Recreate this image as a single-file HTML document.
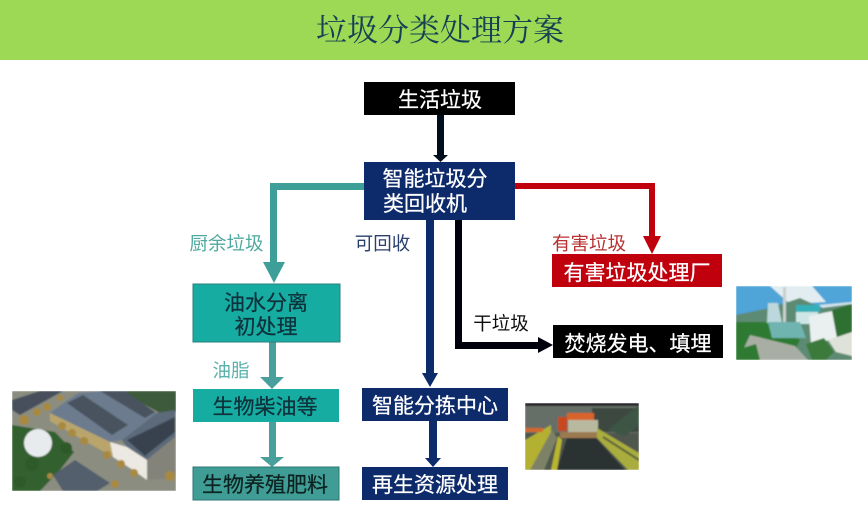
<!DOCTYPE html>
<html lang="zh">
<head>
<meta charset="utf-8">
<style>
html,body{margin:0;padding:0;background:#fff;width:868px;height:509px;overflow:hidden}
svg{display:block}
text{font-family:"Liberation Sans","Noto Sans CJK SC",sans-serif}
</style>
</head>
<body>
<svg width="868" height="509" viewBox="0 0 868 509" xmlns="http://www.w3.org/2000/svg">
<defs>
<filter id="b" x="-5%" y="-5%" width="110%" height="110%"><feGaussianBlur stdDeviation="0.35"/></filter>
<filter id="p" x="0" y="0" width="100%" height="100%"><feGaussianBlur stdDeviation="0.7"/></filter>
<clipPath id="c1"><rect x="12" y="391" width="164" height="100"/></clipPath>
<clipPath id="c2"><rect x="525" y="403" width="114" height="67"/></clipPath>
<clipPath id="c3"><rect x="736" y="286" width="116" height="74"/></clipPath>
</defs>
<rect width="868" height="509" fill="#fff"/>
<rect width="868" height="60" fill="#9dd955"/>
<text x="440" y="41" font-size="31" text-anchor="middle" textLength="248" lengthAdjust="spacing" fill="#143f55" style="font-family:'Liberation Serif','Noto Serif CJK SC',serif">垃圾分类处理方案</text>

<g filter="url(#b)">
<!-- connectors -->
<rect x="437" y="115" width="7" height="40" fill="#050a1c"/>
<path d="M433 155 L448 155 L440.500 162 Z" fill="#050a1c"/>

<path d="M364 186.500 H273.500 V264" fill="none" stroke="#3d9f98" stroke-width="7"/>
<path d="M263 262 H285 L274 283 Z" fill="#3d9f98"/>

<path d="M515 186 H652 V238" fill="none" stroke="#c00010" stroke-width="6"/>
<path d="M643 236 H661 L652 254 Z" fill="#c00010"/>

<rect x="426" y="220" width="8" height="155" fill="#0f2a6b"/>
<path d="M422 373 H438 L430 387 Z" fill="#0f2a6b"/>

<path d="M458.500 220 V345.500 H542" fill="none" stroke="#02040c" stroke-width="7"/>
<path d="M538 337 L553 345 L538 353 Z" fill="#02040c"/>

<rect x="269" y="341" width="7" height="38" fill="#4a9f9b"/>
<path d="M260 377 H284 L272 389 Z" fill="#4a9f9b"/>
<rect x="269" y="422" width="7" height="38" fill="#4a9f9b"/>
<path d="M260 457 H284 L272 467 Z" fill="#4a9f9b"/>

<rect x="429" y="421" width="8" height="39" fill="#0f2a6b"/>
<path d="M425 458 H441 L433 467 Z" fill="#0f2a6b"/>

<!-- boxes -->
<rect x="364" y="82" width="151" height="33" fill="#000"/>
<rect x="364" y="162" width="151" height="58" fill="#0f2a6b"/>
<rect x="193" y="284" width="147" height="58" fill="#14aca1" stroke="#2a7f7c" stroke-width="1"/>
<rect x="193" y="389" width="146" height="33" fill="#14aca1"/>
<rect x="193" y="467" width="146" height="33" fill="#3f9d95" stroke="#2a7773" stroke-width="1"/>
<rect x="362" y="388" width="146" height="33" fill="#0f2a6b"/>
<rect x="362" y="467" width="146" height="33" fill="#0f2a6b"/>
<rect x="552" y="254" width="170" height="33" fill="#c00010"/>
<rect x="553" y="325" width="170" height="33" fill="#000"/>

<!-- box text -->
<g font-size="21" text-anchor="middle" stroke-width="0.25">
<text x="440" y="107" fill="#fff" stroke="#fff">生活垃圾</text>
<text x="435" y="186" fill="#fff" stroke="#fff">智能垃圾分</text>
<text x="425" y="211" fill="#fff" stroke="#fff">类回收机</text>
<text x="266" y="310" fill="#10303a" stroke="#10303a">油水分离</text>
<text x="266" y="334" fill="#10303a" stroke="#10303a">初处理</text>
<text x="265" y="414" fill="#10303a" stroke="#10303a">生物柴油等</text>
<text x="265" y="492" fill="#0b2420" stroke="#0b2420">生物养殖肥料</text>
<text x="435" y="413" fill="#fff" stroke="#fff">智能分拣中心</text>
<text x="435" y="492" fill="#fff" stroke="#fff">再生资源处理</text>
<text x="637" y="280" fill="#fff" stroke="#fff">有害垃圾处理厂</text>
<text x="638" y="351" fill="#fff" stroke="#fff">焚烧发电、填埋</text>
</g>

<!-- labels -->
<g font-size="18.500" text-anchor="middle">
<text x="226.500" y="250" fill="#4fa99f">厨余垃圾</text>
<text x="382.500" y="250" fill="#2a3f6e">可回收</text>
<text x="231" y="377" fill="#5ab0ab">油脂</text>
<text x="501" y="330" fill="#111">干垃圾</text>
<text x="589" y="250" fill="#b83030">有害垃圾</text>
</g>
</g>

<!-- photo: facility -->
<g clip-path="url(#c1)"><g filter="url(#p)">
<rect x="12" y="391" width="164" height="100" fill="#8a8d80"/>
<path d="M120 391 H176 V412 L160 413 Z" fill="#3e5a3a"/>
<path d="M12 400 L40 391 H63 L20 415 L12 410 Z" fill="#47505c"/>
<path d="M12 425 L55 432 L74 452 L60 470 L40 491 H12 Z" fill="#33602f"/>
<path d="M50 413 L78 393 L102 391 L157 413 L122 440 L110 442 Z" fill="#6c7c8e"/>
<path d="M67 403 L83 395 L128 425 L112 435 Z" fill="#48525f"/>
<path d="M100 391 H125 L155 412 L145 418 Z" fill="#48525f"/>
<path d="M122 440 L157 413 L175 410 V437 L147 460 L127 447 Z" fill="#5c6a7a"/>
<path d="M127 440 L175 417 V432 L145 456 Z" fill="#38434f"/>
<path d="M50 413 L110 442 L113 457 L50 421 Z" fill="#b9a56c"/>
<path d="M110 442 L127 447 L147 460 V480 L133 470 L113 457 Z" fill="#ece9e2"/>
<path d="M147 460 L175 437 V478 L147 480 Z" fill="#84837a"/>
<path d="M53 475 L75 460 L110 483 L97 491 H63 Z" fill="#525e6c"/>
<circle cx="38" cy="443" r="14" fill="#e8ebee"/>
<g fill="#a8893f">
<circle cx="24" cy="420" r="5"/><circle cx="37" cy="412" r="4"/><circle cx="47" cy="407" r="4"/><circle cx="60" cy="398" r="3"/>
<circle cx="62" cy="426" r="4"/><circle cx="72" cy="433" r="4"/><circle cx="84" cy="441" r="4"/><circle cx="107" cy="455" r="4"/><circle cx="121" cy="464" r="4"/><circle cx="134" cy="473" r="4"/><circle cx="170" cy="476" r="5"/><circle cx="115" cy="484" r="4"/><circle cx="50" cy="476" r="3"/>
</g>
<g fill="#2e5a2c"><circle cx="66" cy="448" r="6"/><circle cx="32" cy="464" r="7"/><circle cx="20" cy="482" r="6"/></g>
</g></g>

<!-- photo: sorting center -->
<g clip-path="url(#c2)"><g filter="url(#p)">
<rect x="525" y="403" width="114" height="67" fill="#50564e"/>
<rect x="525" y="403" width="114" height="30" fill="#666e68"/>
<rect x="525" y="403" width="114" height="3" fill="#25282a"/>
<rect x="592" y="408" width="47" height="24" fill="#3c4a40"/>
<rect x="567" y="413" width="27" height="7" fill="#d9642c"/>
<rect x="568" y="420" width="30" height="12" fill="#b9b9a0"/>
<rect x="558" y="417" width="9" height="14" fill="#c8471e"/>
<rect x="560" y="432" width="42" height="6" fill="#9c7a50"/>
<path d="M557 470 L567 438 H596 L625 470 Z" fill="#2a3032"/>
<path d="M525 440 L551 425 V435 L532 470 H525 Z" fill="#b3b030"/>
<path d="M530 470 L552 430 L557 438 L544 470 Z" fill="#7d8266"/>
<path d="M551 470 L558 436 L562 440 L557 470 Z" fill="#b9b52e"/>
<path d="M597 428 L639 453 V470 H628 L597 438 Z" fill="#a9ad3d"/>
<path d="M603 437 L639 460" stroke="#5a5f3a" stroke-width="2"/>
<path d="M608 430 L639 405 V425 L625 436 Z" fill="#3d5544"/>
<rect x="525" y="428" width="18" height="4" fill="#d4682c"/>
</g></g>

<!-- photo: power plant -->
<g clip-path="url(#c3)"><g filter="url(#p)">
<rect x="736" y="286" width="116" height="74" fill="#4fa4d8"/>
<path d="M770 286 H812 L826 302 L790 304 Z" fill="#e2edf1"/>
<path d="M818 305 L852 302 V306 L826 310 Z" fill="#cfe3ea"/>
<path d="M736 315 L770 308 L800 298 L822 308 L852 304 V360 H736 Z" fill="#5d8a72"/>
<path d="M736 322 H775 L800 340 L790 360 H736 Z" fill="#2f7a30"/>
<path d="M826 312 L852 304 V340 L838 340 Z" fill="#2f7030"/>
<rect x="783" y="287" width="3" height="36" fill="#c8d0cc"/>
<path d="M768 303 H778 L782 323 H767 Z" fill="#bcd8dc"/>
<rect x="796" y="305" width="24" height="7" fill="#35b0b8"/>
<path d="M796 312 H818 V324 H796 Z" fill="#cfe6e6"/>
<path d="M809 316 L832 311 L837 338 L811 345 Z" fill="#eaf0f0"/>
<path d="M768 322 H800 L806 338 H772 Z" fill="#6fb4b0"/>
<path d="M750 335 L795 346 L808 360 H756 L744 348 Z" fill="#a8aea4"/>
<path d="M828 340 L852 332 V356 L836 352 Z" fill="#dfe2d8"/>
<path d="M806 344 L824 338 L834 352 L826 360 H812 Z" fill="#3a7a3a"/>
<path d="M736 350 L756 344 L760 360 H736 Z" fill="#2f7a30"/>
</g></g>
</svg>
</body>
</html>
